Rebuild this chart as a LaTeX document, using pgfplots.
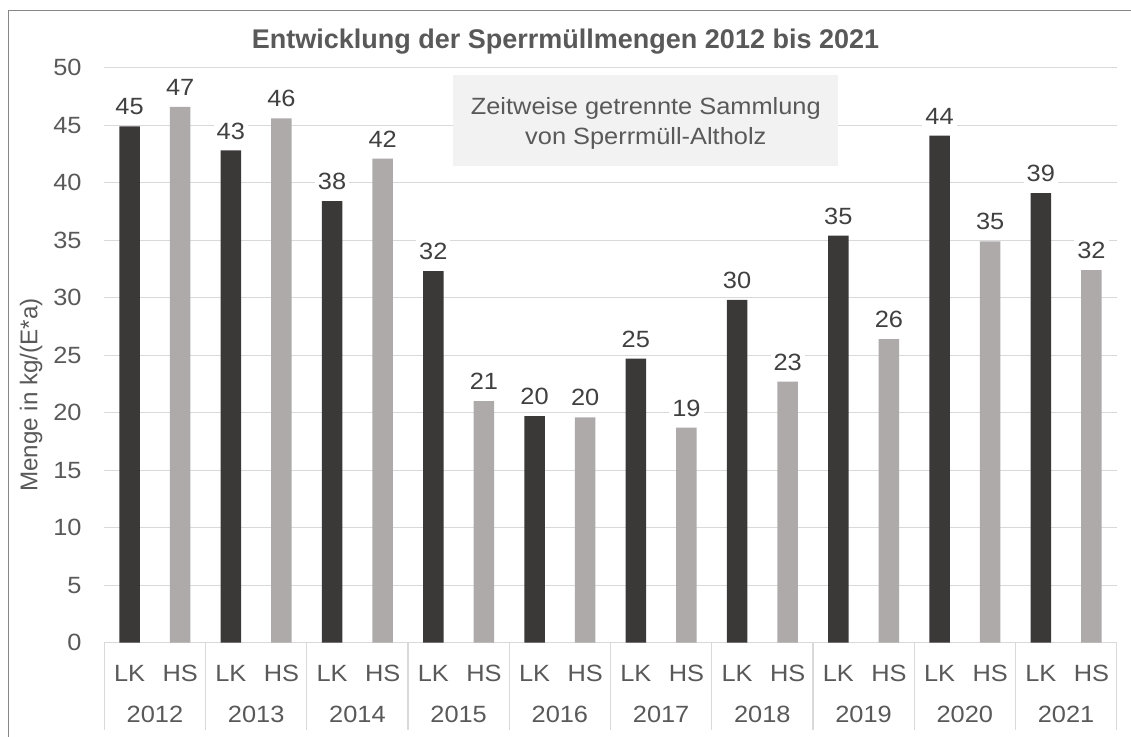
\documentclass[border=0pt]{standalone}
\usepackage{pgfplots}
\pgfplotsset{compat=1.18}
\usepackage{fontspec}
\setmainfont{Liberation Sans}[FakeStretch=1.08]
\newfontfamily\plainfont{Liberation Sans}
\definecolor{darkbar}{HTML}{3B3838}
\definecolor{lightbar}{HTML}{AEAAAA}
\definecolor{txt}{HTML}{595959}
\definecolor{lbl}{HTML}{404040}
\definecolor{gridc}{HTML}{D9D9D9}
\definecolor{boxc}{HTML}{F2F2F2}
\definecolor{borderc}{HTML}{868686}
\newcommand{\fs}{\fontsize{23.5}{28}\selectfont}
\begin{document}
\begin{tikzpicture}
\path[use as bounding box] (0pt,0pt) rectangle (1131pt,736pt);
\begin{axis}[
  at={(104.3pt,93.3pt)}, anchor=south west,
  scale only axis, width=1012.4pt, height=575pt,
  xmin=-0.5, xmax=19.5, ymin=0, ymax=50,
  ytick={0,5,10,15,20,25,30,35,40,45,50},
  xtick={0,1,2,3,4,5,6,7,8,9,10,11,12,13,14,15,16,17,18,19},
  xticklabels={LK,HS,LK,HS,LK,HS,LK,HS,LK,HS,LK,HS,LK,HS,LK,HS,LK,HS,LK,HS},
  ymajorgrids, grid style={color=gridc, line width=1.2pt},
  major tick length=0pt,
  axis line style={draw=none},
  tick label style={font=\fs, text=txt},
  /pgf/number format/assume math mode=true,
  yticklabel style={anchor=east, inner sep=0pt, xshift=-22.6pt},
  xticklabel style={anchor=base, inner sep=0pt, yshift=-38.3pt},
  extra x ticks={0.5,2.5,4.5,6.5,8.5,10.5,12.5,14.5,16.5,18.5},
  extra x tick labels={2012,2013,2014,2015,2016,2017,2018,2019,2020,2021},
  extra x tick style={grid=none, xticklabel style={yshift=-41.3pt}},
  ybar, bar width=0.405, bar shift=0pt,
  nodes near coords={\pgfmathprintnumber[fixed,precision=0]{\pgfplotspointmeta}},
  every node near coord/.append style={font=\fs, text=lbl, fill=white, inner sep=3pt, anchor=south, yshift=8pt},
  clip=false,
]
\addplot[fill=darkbar, draw=none] coordinates {(0,44.9) (2,42.8) (4,38.4) (6,32.3) (8,19.7) (10,24.7) (12,29.8) (14,35.4) (16,44.1) (18,39.1)};
\addplot[fill=lightbar, draw=none] coordinates {(1,46.6) (3,45.6) (5,42.1) (7,21.0) (9,19.6) (11,18.7) (13,22.7) (15,26.4) (17,34.9) (19,32.4)};
\pgfplotsinvokeforeach{-0.5,1.5,3.5,5.5,7.5,9.5,11.5,13.5,15.5,17.5,19.5}{
  \draw[gridc, line width=1.2pt] (axis cs:#1,0) -- ++(0pt,-87pt);
}
\end{axis}
\fill[boxc] (453.3pt,570pt) rectangle (838.3pt,661pt);
\node[font=\fs, text=txt, anchor=base] at (645.8pt,621.7pt) {Zeitweise getrennte Sammlung};
\node[font=\fs, text=txt, anchor=base] at (645.8pt,591pt) {von Sperrmüll-Altholz};
\node[font=\plainfont\fontsize{27}{32}\selectfont\bfseries, text=txt, anchor=base] at (565.5pt,687pt) {Entwicklung der Sperrmüllmengen 2012 bis 2021};
\node[rotate=90, font=\plainfont\fontsize{24.2}{28}\selectfont, text=txt] at (31.2pt,341pt) {Menge in kg/(E*a)};
\draw[borderc, line width=1.3pt] (8.3pt,-5pt) -- (8.3pt,725.3pt) -- (1140pt,725.3pt);
\end{tikzpicture}
\end{document}
